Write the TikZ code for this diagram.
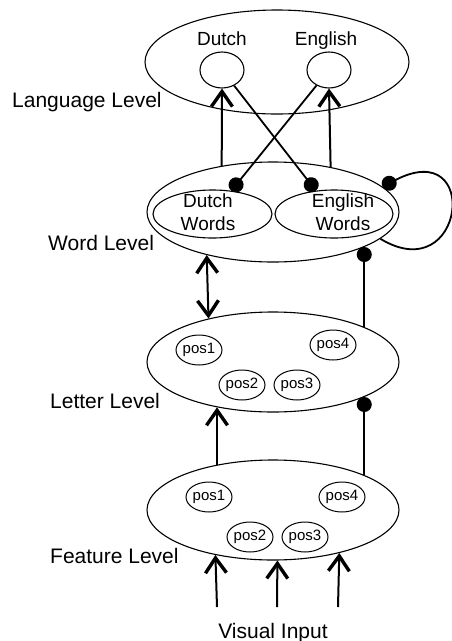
\documentclass[tikz,border=0pt]{standalone}
\usepackage{fontspec}
\setmainfont{Liberation Sans}
\usetikzlibrary{positioning,arrows.meta,shapes.geometric}

\begin{document}
\begin{tikzpicture}[
  x=1pt, y=-1pt,
  lvl/.style={ellipse, draw=black, line width=1.1pt, inner sep=0pt,
              minimum width=252pt, minimum height=100pt},
  unit/.style={ellipse, draw=black, line width=1.1pt, inner sep=0pt,
               minimum width=44pt, minimum height=36pt},
  lexicon/.style={ellipse, draw=black, line width=1.1pt, inner sep=0pt,
                  minimum width=119pt, minimum height=48pt},
  posn/.style={ellipse, draw=black, line width=1pt, inner sep=0pt,
               minimum width=44pt, minimum height=30pt, font=\fontsize{15}{18}\selectfont},
  lbl/.style={font=\fontsize{21}{25}\selectfont, inner sep=0pt},
  sub/.style={font=\fontsize{19}{23}\selectfont, inner sep=0pt, align=center},
  barb/.tip={Straight Barb[length=15pt,width=21pt,line width=3.4pt]},
  exc/.style={-barb, line width=2pt},
  inh/.style={-{Circle[length=15pt]}, line width=1.8pt},
]
\useasboundingbox (0,0) rectangle (452,641);

% language level
\node[lvl, minimum width=264pt, minimum height=104pt] (lang) at (277,62) {};
\node[unit] (dutch) at (222,70) {};
\node[unit] (english) at (329,70) {};
\node[sub, anchor=base] (dutchlbl) at (222,45) {Dutch};
\node[sub, anchor=base] (englishlbl) at (326,45) {English};
\node[lbl, anchor=base west] (langlbl) at (12,107) {Language Level};

% word level
\node[lvl] (word) at (273,212) {};
\node[lexicon] (dwords) at (212.5,214) {};
\node[lexicon, minimum width=118pt] (ewords) at (334,214) {};
\node[sub] (dwordstxt) at (208,212) {Dutch\\Words};
\node[sub] (ewordstxt) at (343,212) {English\\Words};
\node[lbl, anchor=base west] (wordlbl) at (48,250) {Word Level};

% letter level
\node[lvl] (letter) at (273,362) {};
\node[posn] (lpos1) at (199,350) {pos1};
\node[posn] (lpos2) at (242,385) {pos2};
\node[posn] (lpos3) at (297,385) {pos3};
\node[posn] (lpos4) at (333,345) {pos4};
\node[lbl, anchor=base west] (letterlbl) at (50,408) {Letter Level};

% feature level
\node[lvl] (feature) at (273,510) {};
\node[posn] (fpos1) at (209,497) {pos1};
\node[posn] (fpos2) at (250,537) {pos2};
\node[posn] (fpos3) at (305,537) {pos3};
\node[posn] (fpos4) at (342,497) {pos4};
\node[lbl, anchor=base west] (featurelbl) at (50,563) {Feature Level};

% visual input
\node[lbl, anchor=base] (input) at (273,638) {Visual Input};
\coordinate (in1) at (217,607);
\coordinate (in2) at (277,607);
\coordinate (in3) at (338,607);

% excitatory connections (up)
\draw[exc] (in1) -- (feature.218.7);
\draw[exc] (in2) -- (feature.-85.4);
\draw[exc] (in3) -- (feature.-33.4);
\draw[exc] (feature.141.3) -- (letter.-141.3);
\draw[exc, barb-barb] (word.213.4) -- (letter.146.6);
\draw[exc] (word.138.2) -- (dutch.south);
\draw[exc] (word.38.7) -- (english.south);

% inhibitory connections (dots)
\draw[inh] (feature.21.7) -- (letter.-21.7);
\draw[inh] (letter.21.7) -- (word.-21.7);
\draw[inh] (dutch) -- (ewords);
\draw[inh] (english) -- (dwords);
\draw[inh] (word.-14) .. controls (465,290) and (482,135) .. (word.13);
\end{tikzpicture}
\end{document}
